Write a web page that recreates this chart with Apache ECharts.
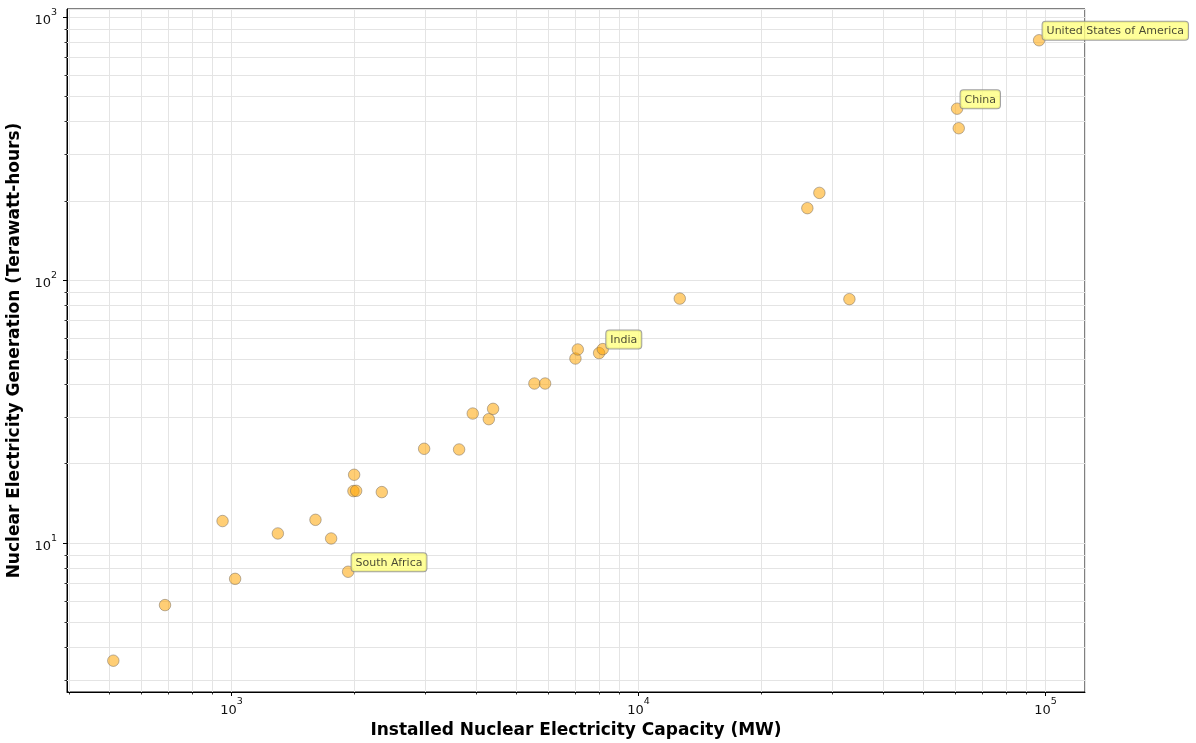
<!DOCTYPE html>
<html><head><meta charset="utf-8">
<script src="https://cdn.jsdelivr.net/npm/echarts@6/dist/echarts.min.js"></script>
<style>html,body{margin:0;padding:0;background:#fff}#c{width:1196px;height:743px}</style>
</head><body><div id="c"></div>
<script>
const capacityMW = [512, 686, 950, 1020, 1299, 1607, 1756, 1933, 2000, 1992, 2023, 2339, 2972, 3622, 3913, 4285, 4390, 5546, 5892, 6995, 7090, 7998, 8166, 12625, 25980, 27810, 32960, 60610, 61190, 96400];
const generationTWh = [3.57, 5.81, 12.13, 7.31, 10.88, 12.26, 10.41, 7.78, 18.19, 15.77, 15.8, 15.63, 22.84, 22.70, 31.1, 29.6, 32.4, 40.45, 40.45, 50.35, 54.5, 52.8, 54.67, 85.1, 187.9, 214.8, 84.7, 449, 378.4, 817.5];
const pointLabels = ['', '', '', '', '', '', '', 'South Africa', '', '', '', '', '', '', '', '', '', '', '', '', '', '', 'India', '', '', '', '', 'China', '', 'United States of America'];
const xMinorTicks = [400, 500, 600, 700, 800, 900, 2000, 3000, 4000, 5000, 6000, 7000, 8000, 9000, 20000, 30000, 40000, 50000, 60000, 70000, 80000, 90000];
const yMinorTicks = [3, 4, 5, 6, 7, 8, 9, 20, 30, 40, 50, 60, 70, 80, 90, 200, 300, 400, 500, 600, 700, 800, 900];
const xRange = [394, 125000];
const yRange = [2.714, 1075];
const xTitle = 'Installed Nuclear Electricity Capacity (MW)';
const yTitle = 'Nuclear Electricity Generation (Terawatt-hours)';

function powLabel(v) {
  const e = Math.log10(v);
  const r = Math.round(e);
  if (Math.abs(e - r) > 1e-6) return '';
  return '{b|10}{s|' + r + '}';
}
const FONT = 'DejaVu Sans';
const GRID_COLOR = '#e4e4e4';
const tickRich = {
  b: {fontFamily: FONT, fontSize: 13, lineHeight: 20, verticalAlign: 'bottom', color: '#111'},
  s: {fontFamily: FONT, fontSize: 9.5, lineHeight: 12, verticalAlign: 'top', color: '#111'}
};

function crisp(v) { return Math.round(v - 0.5) + 0.5; }

const chart = echarts.init(document.getElementById('c'), null, {renderer: 'canvas'});
const scatterData = capacityMW.map((c, i) => {
  const item = {value: [c, generationTWh[i]], name: pointLabels[i]};
  if (pointLabels[i]) {
    item.label = {
      show: true,
      formatter: pointLabels[i],
      position: [9.75, -12.25],
      fontFamily: FONT,
      fontSize: 11,
      lineHeight: 13,
      color: '#1a1a1a',
      backgroundColor: '#ffff80',
      borderColor: '#8a8a8a',
      borderWidth: 1,
      borderRadius: 3,
      padding: [3, 4, 2, 4]
    };
  }
  return item;
});

const axisCommon = {
  type: 'log',
  logBase: 10,
  axisLine: {show: true, lineStyle: {color: '#000', width: 1}},
  axisTick: {show: true, length: 4, inside: false, lineStyle: {color: '#000', width: 1}},
  splitLine: {show: true, lineStyle: {color: GRID_COLOR, width: 1, type: 'solid'}},
  minorTick: {show: false},
  minorSplitLine: {show: false},
  nameLocation: 'middle',
  nameTextStyle: {fontFamily: FONT, fontWeight: 'bold', fontSize: 17, color: '#000'}
};

chart.setOption({
  animation: false,
  backgroundColor: '#fff',
  grid: {left: 67, right: 111, top: 9, bottom: 51, show: true, borderColor: '#000', borderWidth: 1, backgroundColor: 'transparent', containLabel: false, outerBoundsMode: 'none'},
  xAxis: Object.assign({}, axisCommon, {
    min: xRange[0], max: xRange[1],
    name: xTitle, nameGap: 28,
    axisLabel: {formatter: powLabel, rich: tickRich, margin: 5, showMinLabel: false, showMaxLabel: false}
  }),
  yAxis: Object.assign({}, axisCommon, {
    min: yRange[0], max: yRange[1],
    name: yTitle, nameGap: 40,
    axisLabel: {formatter: powLabel, rich: tickRich, margin: 10, showMinLabel: false, showMaxLabel: false}
  }),
  series: [
    {
      type: 'custom', z: 1, clip: false, silent: true,
      data: xMinorTicks.map(v => [v, yRange[0]]),
      renderItem: function (params, api) {
        const v = api.value(0);
        const top = api.coord([v, yRange[1]]);
        const bot = api.coord([v, yRange[0]]);
        const x = crisp(top[0]);
        return {type: 'group', children: [
          {type: 'line', shape: {x1: x, y1: top[1], x2: x, y2: bot[1]}, style: {stroke: GRID_COLOR, lineWidth: 1}},
          {type: 'line', shape: {x1: x, y1: bot[1], x2: x, y2: bot[1] + 2.5}, style: {stroke: '#000', lineWidth: 0.8}}
        ]};
      }
    },
    {
      type: 'custom', z: 1, clip: false, silent: true,
      data: yMinorTicks.map(v => [xRange[0], v]),
      renderItem: function (params, api) {
        const v = api.value(1);
        const l = api.coord([xRange[0], v]);
        const r = api.coord([xRange[1], v]);
        const y = crisp(l[1]);
        return {type: 'group', children: [
          {type: 'line', shape: {x1: l[0], y1: y, x2: r[0], y2: y}, style: {stroke: GRID_COLOR, lineWidth: 1}},
          {type: 'line', shape: {x1: l[0] - 2.5, y1: y, x2: l[0], y2: y}, style: {stroke: '#000', lineWidth: 0.8}}
        ]};
      }
    },
    {
      type: 'scatter', z: 3,
      symbol: 'circle', symbolSize: 11.5,
      itemStyle: {color: 'rgba(255,165,0,0.68)', borderColor: 'rgba(110,100,90,0.6)', borderWidth: 1},
      label: {show: false},
      emphasis: {disabled: true},
      labelLayout: {hideOverlap: false},
      data: scatterData
    }
  ]
});
</script>
</body></html>
